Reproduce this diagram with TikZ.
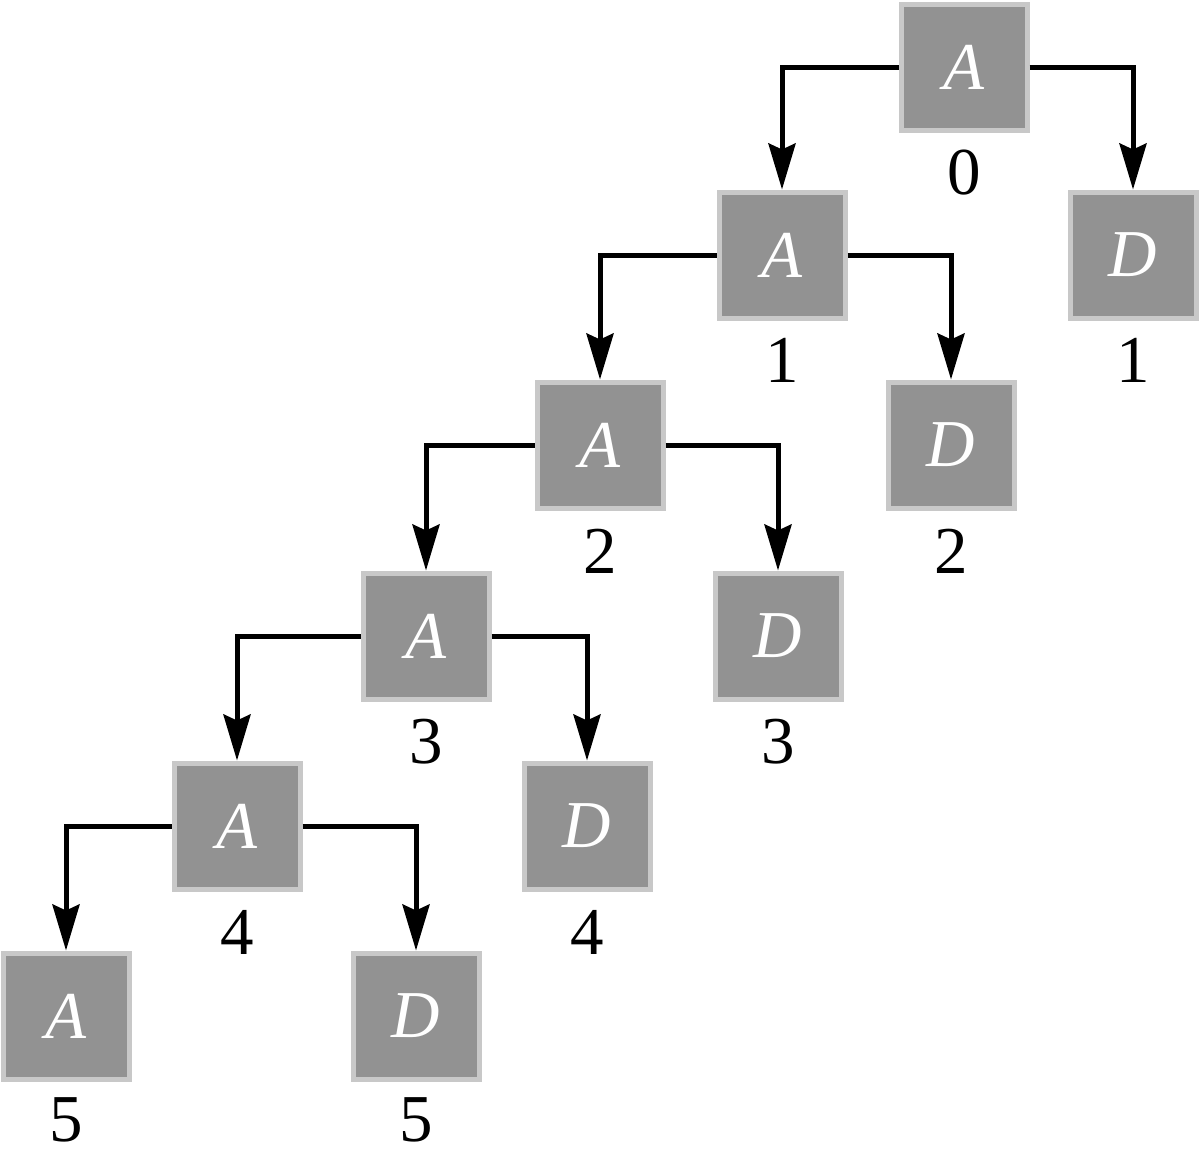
\documentclass[tikz,border=0pt]{standalone}
\usepackage{fontspec}
\setmainfont{Liberation Serif}
\usetikzlibrary{arrows.meta}
\definecolor{boxfill}{HTML}{929292}
\definecolor{boxline}{HTML}{C8C8C8}
\begin{document}
\begin{tikzpicture}[x=1pt,y=-1pt,
  cell/.style={draw=boxline,fill=boxfill,line width=5pt,minimum size=126pt,inner sep=0pt,
    font=\fontsize{67}{67}\selectfont\itshape,text=white},
  lbl/.style={font=\fontsize{67}{67}\selectfont,inner sep=0pt},
  conn/.style={line width=5pt,-{Stealth[length=46pt,width=27pt,inset=6pt]}}]
\useasboundingbox (0,0) rectangle (1199,1149);
\node[cell] (a0) at (964,67) {A};
\node[cell] (a1) at (782,255) {A};
\node[cell] (a2) at (600,445) {A};
\node[cell] (a3) at (426,636) {A};
\node[cell] (a4) at (237,826) {A};
\node[cell] (a5) at (66,1016) {A};
\node[cell] (d1) at (1133,255) {D};
\node[cell] (d2) at (951,445) {D};
\node[cell] (d3) at (778,636) {D};
\node[cell] (d4) at (587,826) {D};
\node[cell] (d5) at (416,1016) {D};
\node[lbl] (l0) at (964,173) {0};
\node[lbl] (l1) at (782,360) {1};
\node[lbl] (l2) at (600,551) {2};
\node[lbl] (l3) at (426,742) {3};
\node[lbl] (l4) at (237,932) {4};
\node[lbl] (l5) at (66,1120) {5};
\node[lbl] (m1) at (1133,360) {1};
\node[lbl] (m2) at (951,551) {2};
\node[lbl] (m3) at (778,742) {3};
\node[lbl] (m4) at (587,932) {4};
\node[lbl] (m5) at (416,1120) {5};
\foreach \p/\c in {0/1,1/2,2/3,3/4,4/5}{
  \draw[conn] (a\p.west) -| (a\c.north);
  \draw[conn] (a\p.east) -| (d\c.north);
}
\end{tikzpicture}
\end{document}
